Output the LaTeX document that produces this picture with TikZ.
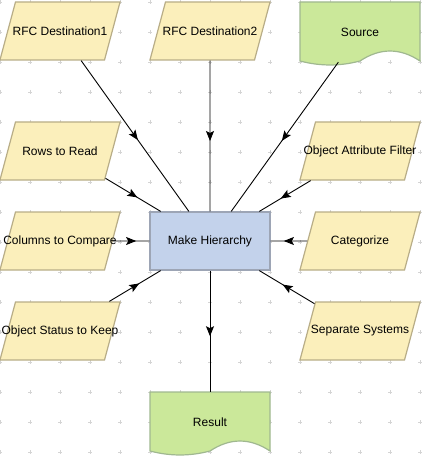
\documentclass[tikz,border=0pt]{standalone}
\usepackage{fontspec}
\setmainfont{Liberation Sans}
\usetikzlibrary{shapes.geometric, arrows.meta, decorations.markings}

\definecolor{datafill}{HTML}{FBEFBB}
\definecolor{dataline}{HTML}{B8AD87}
\definecolor{procfill}{HTML}{C3D2EB}
\definecolor{procline}{HTML}{9DA5B5}
\definecolor{docfill}{HTML}{CBE89A}
\definecolor{docline}{HTML}{A0B890}
\definecolor{gridmark}{HTML}{D4D4D4}

\tikzstyle{data} = [trapezium, trapezium left angle = 75, trapezium right angle = 105, draw = dataline, fill = datafill, line width = 1.2pt, inner sep = 0pt, text width = 89pt, text height = 58pt, text depth = 0pt]
\tikzstyle{proc} = [rectangle, draw = procline, fill = procfill, line width = 1.2pt, minimum width = 120pt, minimum height = 58pt]
\tikzstyle{doc} = [rectangle, inner sep = 0pt, minimum width = 120pt, minimum height = 60pt]
\tikzstyle{flow} = [line width = 0.9pt, postaction = {decorate}, decoration = {markings, mark = at position 0.5 with {\pgftransformxshift{5pt}\arrow{Stealth[length = 10pt, width = 8pt, inset = 2pt]}}}]

% wavy document outline, top left corner at (#1, #2)
\newcommand{\docshape}[2]{%
    \draw [draw = docline, fill = docfill, line width = 1.2pt, shift = {(#1, #2)}] (0, 0) -- (120, 0) -- (120, 59) .. controls (100, 45.7) and (80, 45.7) .. (60, 59) .. controls (40, 64.3) and (20, 64.3) .. (0, 59) -- cycle;}

\begin{document}
\begin{tikzpicture}[x = 1pt, y = -1pt, font = \fontsize{12}{14}\selectfont]
        \useasboundingbox (0, 0) rectangle (421, 457);

        % background grid
        \foreach \x in {0, 30, ..., 420}
            \foreach \y in {2, 32, ..., 452}
                \draw [gridmark, line width = 0.8pt] (\x - 2, \y) -- (\x + 2, \y) (\x, \y - 2) -- (\x, \y + 2);

        \docshape{300}{2}
        \docshape{150}{392}

        \node (RFC1) at (60, 31) [data, label = center:{RFC Destination1}] {};
        \node (RFC2) at (210, 31) [data, label = center:{RFC Destination2}] {};
        \node (Source) at (360, 32) [doc] {Source};
        \node (Rows) at (60, 151) [data, label = center:{Rows to Read}] {};
        \node (Filter) at (360, 151) [data, label = center:{Object Attribute Filter}] {};
        \node (Columns) at (60, 241) [data, label = center:{Columns to Compare}] {};
        \node (Hierarchy) at (210, 241) [proc] {Make Hierarchy};
        \node (Categorize) at (360, 241) [data, label = center:{Categorize}] {};
        \node (Status) at (60, 331) [data, label = center:{Object Status to Keep}] {};
        \node (Separate) at (360, 331) [data, label = center:{Separate Systems}] {};
        \node (Result) at (210, 422) [doc] {Result};

        \draw [flow] (RFC1) -- (Hierarchy);
        \draw [flow] (RFC2) -- (Hierarchy);
        \draw [flow] (Source) -- (Hierarchy);
        \draw [flow] (Rows) -- (Hierarchy);
        \draw [flow] (Filter) -- (Hierarchy);
        \draw [flow] (Columns) -- (Hierarchy);
        \draw [flow] (Categorize) -- (Hierarchy);
        \draw [flow] (Status) -- (Hierarchy);
        \draw [flow] (Separate) -- (Hierarchy);
        \draw [flow] (Hierarchy) -- (Result);
    \end{tikzpicture}
\end{document}
